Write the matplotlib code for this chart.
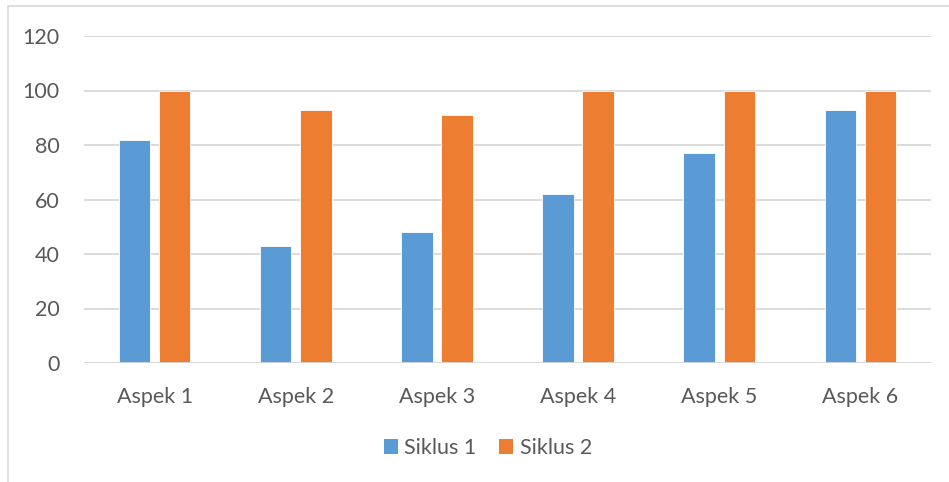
import matplotlib
matplotlib.use("Agg")
import matplotlib.pyplot as plt
import numpy as np
from matplotlib.patches import Rectangle, Patch

categories = ["Aspek 1", "Aspek 2", "Aspek 3", "Aspek 4", "Aspek 5", "Aspek 6"]
siklus1 = [82, 43, 48, 62, 77, 93]
siklus2 = [100, 93, 91, 100, 100, 100]
series_names = ["Siklus 1", "Siklus 2"]
yticks = [0, 20, 40, 60, 80, 100, 120]

blue = "#5B9BD5"
orange = "#ED7D31"
txt = "#595959"
grid = "#D9D9D9"

plt.rcParams['font.family'] = ['Lato', 'DejaVu Sans']

W, H = 949, 482
fig = plt.figure(figsize=(W/100, H/100), dpi=100)
ax = fig.add_axes([84/W, 1-363/H, (931-84)/W, (363-36)/H])

x = np.arange(len(categories))
bw = 0.223
off = 0.142
ax.bar(x - off, siklus1, bw, color=blue, edgecolor="white", linewidth=0.6, zorder=3)
ax.bar(x + off, siklus2, bw, color=orange, edgecolor="white", linewidth=0.6, zorder=3)

ax.set_xlim(-0.5, len(categories) - 0.5)
ax.set_ylim(0, 120)
ax.set_yticks(yticks)
ax.set_yticklabels([str(v) for v in yticks])
ax.set_xticks(x)
ax.set_xticklabels(categories)
ax.tick_params(axis='y', length=0, pad=17.5, labelsize=15.5, labelcolor=txt)
ax.tick_params(axis='x', length=0, pad=17, labelsize=15.5, labelcolor=txt)
for s in ax.spines.values():
    s.set_visible(False)
ax.yaxis.grid(True, color=grid, linewidth=1.3, zorder=0)
ax.set_axisbelow(True)
ax.axhline(0, color=grid, linewidth=1.3, zorder=4)

handles = [Patch(facecolor=blue, label=series_names[0]), Patch(facecolor=orange, label=series_names[1])]
leg = fig.legend(handles=handles, loc="center", bbox_to_anchor=(488/W, 1-448/H), ncol=2,
                 frameon=False, fontsize=15.5, handlelength=0.65, handleheight=0.65,
                 handletextpad=0.3, columnspacing=1.05)
for t in leg.get_texts():
    t.set_color(txt)

# outer chart border
fig.patches.append(Rectangle((8/W, -0.1), 1.2, 1.1 - 6/H, transform=fig.transFigure,
                             fill=False, edgecolor="#D9D9D9", linewidth=1.2))

fig.savefig("out.png", dpi=100, facecolor="white")
